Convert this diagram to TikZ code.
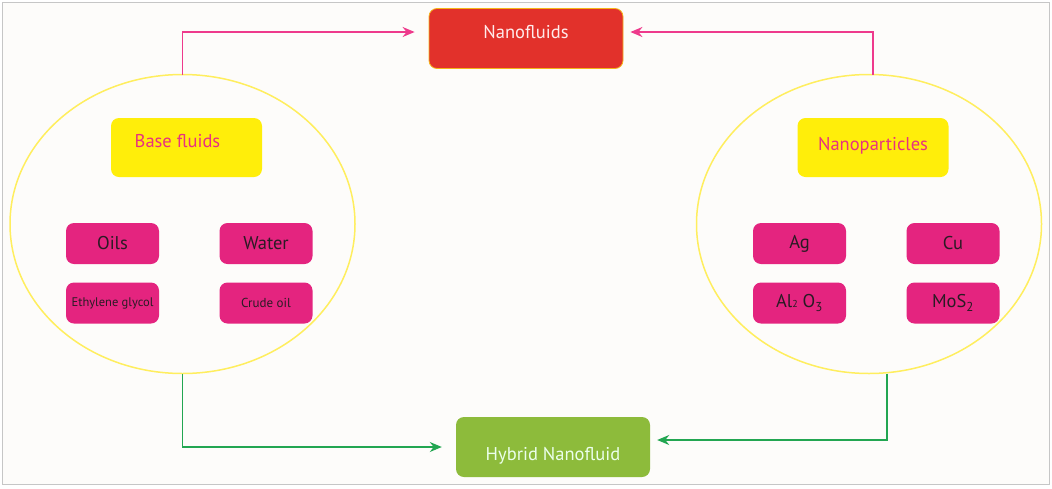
\documentclass[tikz,border=0pt]{standalone}
\usepackage{fontspec}
\setmainfont{PT Sans}
\usepackage{tikz}
\usetikzlibrary{arrows.meta,shapes.geometric,calc}

\definecolor{nfred}{HTML}{E2312B}
\definecolor{nfedge}{HTML}{F4B41A}
\definecolor{hygreen}{HTML}{8DBB3B}
\definecolor{boxpink}{HTML}{E4247F}
\definecolor{boxyellow}{HTML}{FFEE0A}
\definecolor{ringyellow}{HTML}{FFEE5E}
\definecolor{linkpink}{HTML}{EE3A8C}
\definecolor{linkgreen}{HTML}{22A651}
\definecolor{labelpink}{HTML}{E8327E}
\definecolor{inkdark}{HTML}{2A1B24}
\definecolor{paper}{HTML}{FDFCFA}

\begin{document}
\begin{tikzpicture}[x=1pt,y=-1pt,
  bigfont/.style={font=\fontsize{18.5}{21}\selectfont},
  mainbox/.style={rounded corners=8pt,minimum width=194pt,minimum height=60pt,
    inner sep=0pt,text height=13pt,text depth=4pt,bigfont},
  headbox/.style={fill=boxyellow,rounded corners=8pt,minimum width=151pt,
    minimum height=59pt,inner sep=0pt,text height=13pt,text depth=4pt,
    text=labelpink,bigfont},
  itembox/.style={fill=boxpink,rounded corners=8pt,minimum width=93pt,
    minimum height=41pt,inner sep=0pt,text=inkdark},
  ring/.style={ellipse,draw=ringyellow,line width=1.5pt,minimum width=345pt,
    minimum height=299pt,inner sep=0pt,outer sep=0pt},
  pinklink/.style={draw=linkpink,line width=1.5pt,-{Stealth[length=12pt,width=10pt]}},
  greenlink/.style={draw=linkgreen,line width=1.3pt,-{Stealth[length=12pt,width=10pt]}}]
  % frame and background
  \useasboundingbox (0,0) rectangle (1052,488);
  \fill[paper] (2,2) rectangle (1049,484);
  \draw[gray!45,line width=1pt] (2,2) rectangle (1049,484);
  % the two groups
  \node[ring] (baseell) at (182.5,224) {};
  \node[ring] (npell) at (869,224) {};
  % results
  \node[mainbox,fill=nfred,draw=nfedge,line width=0.8pt,text=white!92!red] (nano) at (526,38.5) {\raisebox{5pt}{Nanofluids}};
  \node[mainbox,fill=hygreen,text=white!92!green] (hybrid) at (553,447) {\raisebox{-9pt}{Hybrid Nanofluid}};
  % base fluids
  \node[headbox] (base) at (186.5,147.5) {\hspace*{-18pt}\raisebox{5pt}{Base fluids}};
  \node[itembox,bigfont] (oils) at (112.5,243.5) {Oils};
  \node[itembox,bigfont] (water) at (266,243.5) {Water};
  \node[itembox,font=\fontsize{12.5}{14}\selectfont] (glycol) at (112.5,303) {Ethylene glycol};
  \node[itembox,font=\fontsize{13}{14}\selectfont] (crude) at (266,303) {Crude oil};
  % nanoparticles
  \node[headbox] (np) at (873,147.5) {\raisebox{2pt}{Nanoparticles}};
  \node[itembox,bigfont] (ag) at (799.5,243.5) {Ag};
  \node[itembox,bigfont] (cu) at (953,243.5) {Cu};
  \node[itembox,bigfont] (alox) at (799.5,303) {Al{\fontsize{10}{10}\selectfont 2} O\textsubscript{3}};
  \node[itembox,bigfont] (mos) at (953,303) {MoS\textsubscript{2}};
  % connectors
  \draw[pinklink,shorten >=14pt] (baseell.north) |- ([yshift=6.5pt]nano.west);
  \draw[pinklink,shorten >=7pt] ([xshift=4pt]npell.north) |- ([yshift=6.5pt]nano.east);
  \draw[greenlink,shorten >=14pt] (baseell.south) |- (hybrid.west);
  \draw[greenlink,shorten >=7pt] ([xshift=18pt]npell.south) |- ([yshift=7pt]hybrid.east);
\end{tikzpicture}
\end{document}
